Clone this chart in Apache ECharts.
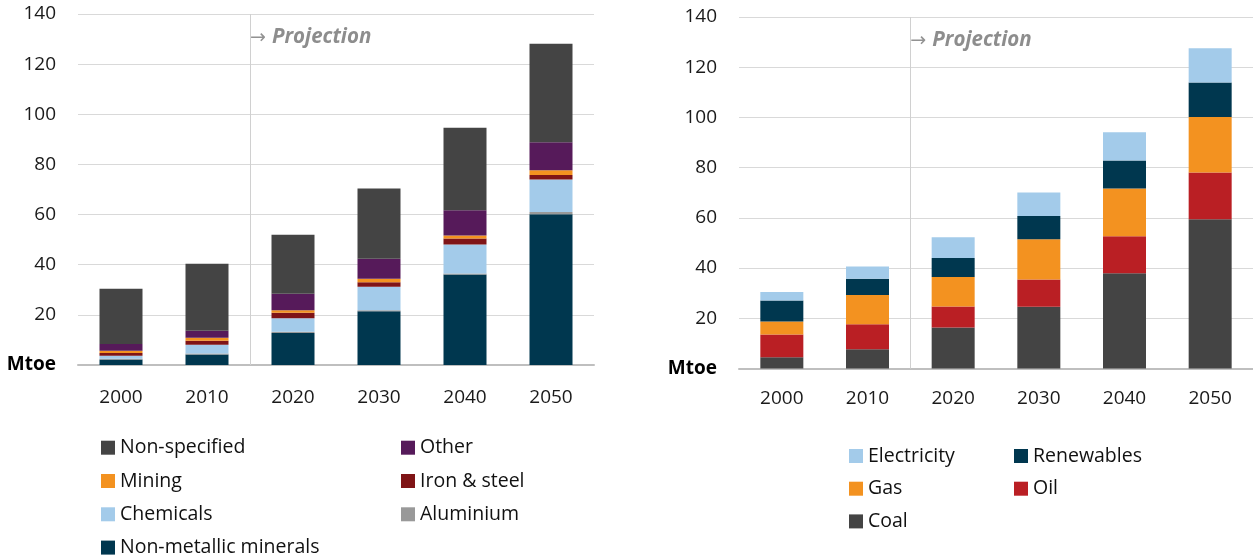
<!DOCTYPE html>
<html>
<head>
<meta charset="utf-8">
<script src="https://cdn.jsdelivr.net/npm/echarts@6/dist/echarts.min.js"></script>
<style>
html,body{margin:0;padding:0;background:#fff;}
#chart{width:1253px;height:558px;}
</style>
</head>
<body>
<div id="chart"></div>
<script>
// ---------- data ----------
const years = ['2000', '2010', '2020', '2030', '2040', '2050'];
const yTicks = [0, 20, 40, 60, 80, 100, 120, 140];

// Left chart: by sector (Mtoe)
const nonMetallic = [2.2, 4.2, 12.8, 21.4, 36.1, 60.1];
const aluminium   = [0.3, 0.4, 0.5, 0.4, 0.4, 0.9];
const chemicals   = [1.2, 3.5, 5.3, 9.4, 11.6, 13.0];
const ironSteel   = [1.1, 1.6, 2.2, 1.8, 2.4, 1.8];
const mining      = [0.9, 1.2, 1.0, 1.4, 1.2, 1.9];
const other       = [2.7, 2.8, 6.6, 8.0, 10.0, 11.1];
const nonSpecified= [22.0, 26.7, 23.6, 28.0, 32.9, 39.3];

// Right chart: by fuel (Mtoe)
const coal        = [4.5, 7.7, 16.3, 24.6, 37.9, 59.4];
const oil         = [9.0, 9.9, 8.4, 10.8, 14.8, 18.7];
const gas         = [5.2, 11.7, 11.7, 16.1, 19.0, 22.1];
const renewables  = [8.4, 6.4, 7.6, 9.2, 11.1, 13.7];
const electricity = [3.4, 4.9, 8.3, 9.4, 11.3, 13.7];

// legend layout (column-wise names)
const leftLegendCol1  = ['Non-specified', 'Mining', 'Chemicals', 'Non-metallic minerals'];
const leftLegendCol2  = ['Other', 'Iron & steel', 'Aluminium'];
const rightLegendCol1 = ['Electricity', 'Gas', 'Coal'];
const rightLegendCol2 = ['Renewables', 'Oil'];

const projectionStart = 2;      // boundary between 2010 and 2020 (category index units)
const projectionLabelY = 130.6;

// ---------- styles ----------
const FONT = '"Open Sans", "Noto Sans", sans-serif';
const C = {
  nonSpecified: '#444444', other: '#561A5A', mining: '#F39220', iron: '#7F1416',
  chemicals: '#A3CBEA', aluminium: '#999999', nonMetallic: '#00374F',
  oil: '#BA1F24'
};

const chart = echarts.init(document.getElementById('chart'));

function yAxis(gridIndex) {
  return {
    type: 'value', gridIndex, min: 0, max: 140, interval: 20,
    axisLine: {show: false}, axisTick: {show: false},
    splitLine: {lineStyle: {color: '#d9d9d9', width: 1}},
    axisLabel: {
      margin: 22, color: '#1a1a1a', fontSize: 19, fontFamily: FONT,
      formatter: v => v === 0 ? '{m|Mtoe}' : String(v),
      rich: {m: {fontWeight: 'bold', fontSize: 19, color: '#000', fontFamily: FONT}}
    }
  };
}
function xCat(gridIndex, margin) {
  return {
    type: 'category', gridIndex, data: years,
    axisLine: {lineStyle: {color: '#bfbfbf', width: 2}},
    axisTick: {show: false},
    axisLabel: {margin, color: '#1a1a1a', fontSize: 19, fontFamily: FONT}
  };
}
function xVal(gridIndex) {
  return {type: 'value', gridIndex, min: 0, max: years.length, show: false};
}
function bar(name, data, color, idx, stack) {
  return {
    name, type: 'bar', data, stack, xAxisIndex: idx, yAxisIndex: idx,
    barWidth: 43, itemStyle: {color}, emphasis: {disabled: true}
  };
}
function projection(xIdx, yIdx) {
  return {
    type: 'scatter', xAxisIndex: xIdx, yAxisIndex: yIdx, symbolSize: 0,
    data: [[projectionStart, projectionLabelY]], silent: true,
    label: {
      show: true, position: 'right', distance: 0,
      formatter: '{a|\u2192}{b|Projection}',
      rich: {
        a: {fontSize: 19, color: '#777', fontFamily: '"DejaVu Sans", sans-serif', padding: [0, 6, 0, 0]},
        b: {fontSize: 20.5, color: '#707070', fontWeight: 'bold', fontStyle: 'italic', fontFamily: FONT}
      }
    },
    markLine: {
      silent: true, symbol: 'none', label: {show: false},
      lineStyle: {color: '#d0d0d0', width: 1, type: 'solid'},
      data: [{xAxis: projectionStart}]
    }
  };
}

const legendText = {fontSize: 19.5, color: '#111', fontFamily: FONT};
function legendColumn(left, firstCenter, step, names) {
  return names.map((n, i) => ({
    orient: 'horizontal', left, top: firstCenter + i * step - 9, padding: 0,
    itemWidth: 14, itemHeight: 14, icon: 'rect', textStyle: legendText,
    selectedMode: false, data: [n]
  }));
}

chart.setOption({
  animation: false,
  grid: [
    {left: 78, width: 516, top: 14, height: 351},
    {left: 739, width: 514, top: 17, height: 351.5}
  ],
  xAxis: [xCat(0, 23), xCat(1, 21), xVal(0), xVal(1)],
  yAxis: [yAxis(0), yAxis(1)],
  legend: [].concat(
    legendColumn(101, 446.7, 33.3, leftLegendCol1),
    legendColumn(401, 446.7, 33.3, leftLegendCol2),
    legendColumn(849, 455, 32.7, rightLegendCol1),
    legendColumn(1014, 455, 32.7, rightLegendCol2)
  ),
  series: [
    bar('Non-metallic minerals', nonMetallic, C.nonMetallic, 0, 'L'),
    bar('Aluminium', aluminium, C.aluminium, 0, 'L'),
    bar('Chemicals', chemicals, C.chemicals, 0, 'L'),
    bar('Iron & steel', ironSteel, C.iron, 0, 'L'),
    bar('Mining', mining, C.mining, 0, 'L'),
    bar('Other', other, C.other, 0, 'L'),
    bar('Non-specified', nonSpecified, C.nonSpecified, 0, 'L'),

    bar('Coal', coal, C.nonSpecified, 1, 'R'),
    bar('Oil', oil, C.oil, 1, 'R'),
    bar('Gas', gas, C.mining, 1, 'R'),
    bar('Renewables', renewables, C.nonMetallic, 1, 'R'),
    bar('Electricity', electricity, C.chemicals, 1, 'R'),

    projection(2, 0),
    projection(3, 1)
  ]
});
</script>
</body>
</html>
